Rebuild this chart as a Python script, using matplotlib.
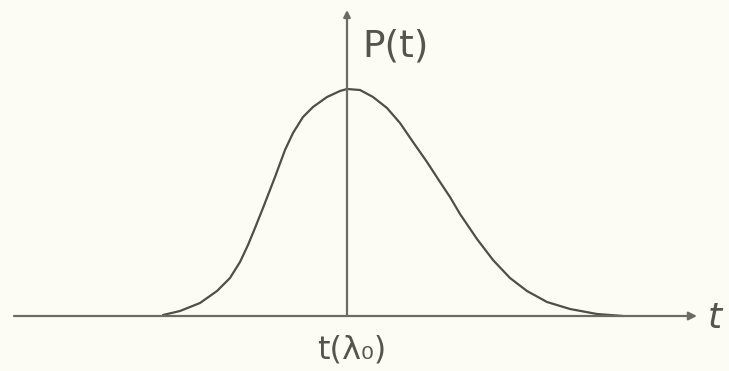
import matplotlib.pyplot as plt

# points (t relative to peak, P above baseline), in pixel units
t_vals = [-184, -167, -147, -130, -117, -107, -99, -92, -84, -72, -62, -54,
          -44, -34, -20, -7, 0, 13, 26, 40, 53, 66, 80, 93, 103, 113, 130,
          146, 163, 180, 200, 223, 250, 276]
p_vals = [1, 5, 13, 25, 38, 54, 71, 88, 108, 139, 166, 183,
          199, 209, 219, 225, 227, 226, 219, 208, 193, 174, 154, 134, 119, 102, 77,
          56, 38, 25, 14, 7, 2, 0]

axis_color = "#6a6a66"
line_color = "#4e4e4a"
text_color = "#555550"
bg = "#fdfcf4"

fig = plt.figure(figsize=(7.29, 3.71), dpi=100, facecolor=bg)
ax = fig.add_axes([0, 0, 1, 1])
ax.set_facecolor(bg)
ax.set_xlim(-347, 382)
ax.set_ylim(-55, 316)
ax.axis("off")

# axes with arrows
ax.annotate("", xy=(350, 0), xytext=(-333, 0),
            arrowprops=dict(arrowstyle="-|>", color=axis_color, lw=1.6,
                            mutation_scale=12, shrinkA=0, shrinkB=0))
ax.annotate("", xy=(0, 306), xytext=(0, 0),
            arrowprops=dict(arrowstyle="-|>", color=axis_color, lw=1.6,
                            mutation_scale=10, shrinkA=0, shrinkB=0))

# the curve
ax.plot(t_vals, p_vals, color=line_color, lw=1.6,
        solid_capstyle="round", solid_joinstyle="round")

# labels
ax.text(15, 269, "P(t)", fontsize=27, color=text_color, ha="left", va="center")
ax.text(5, -34, "t(λ₀)", fontsize=23, color=text_color, ha="center", va="center")
ax.text(368, -2, "t", fontsize=26, color=text_color, ha="center", va="center",
        style="italic")

plt.savefig("out.png", dpi=100, facecolor=bg)
